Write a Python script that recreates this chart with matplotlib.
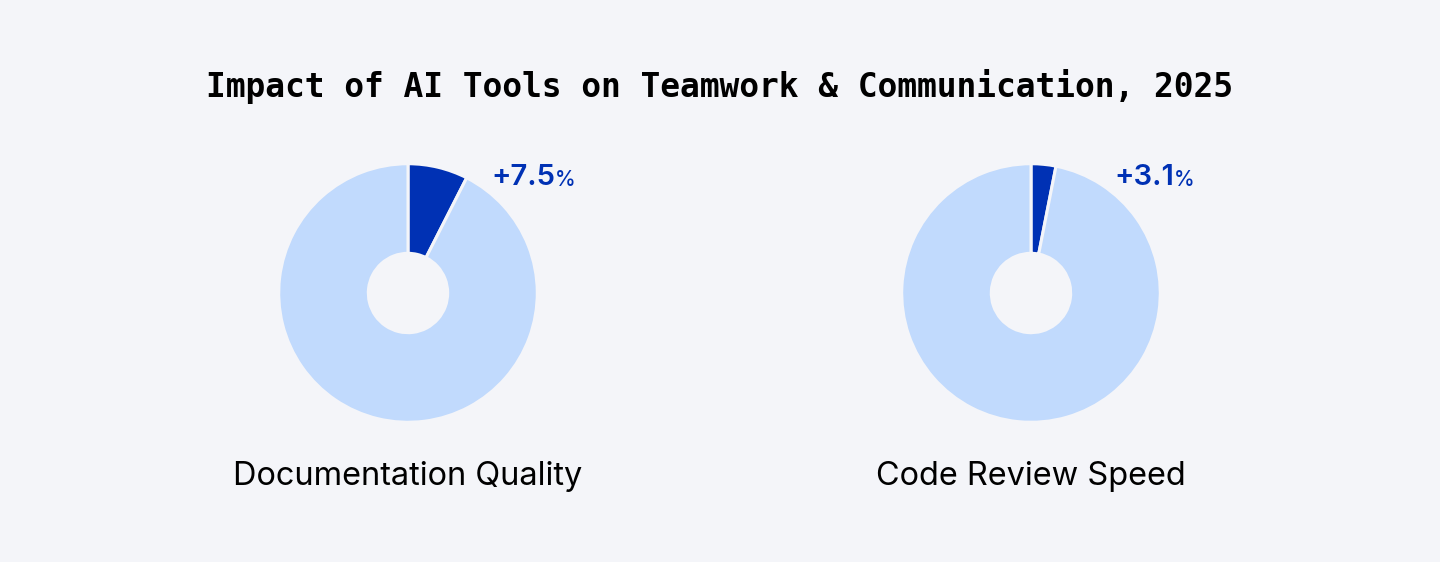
import matplotlib.pyplot as plt

# data
categories = ["Documentation Quality", "Code Review Speed"]
values = [7.5, 3.1]
title = "Impact of AI Tools on Teamwork & Communication, 2025"

bg = "#f4f5f9"
dark = "#0031b4"
light = "#c1dafd"

W, H = 1440, 562
fig = plt.figure(figsize=(W / 100, H / 100), dpi=100, facecolor=bg)

fig.text(720 / W, 1 - 97 / H, title, ha="center", va="baseline",
         fontsize=23.7, fontweight="bold", family="DejaVu Sans Mono", color="#000000")

centers = [408, 1031]
cy = 293
r_px = 128
box = 300
lim = box / 2 / r_px

for cx, cat, v in zip(centers, categories, values):
    ax = fig.add_axes([(cx - box / 2) / W, (H - cy - box / 2) / H, box / W, box / H])
    ax.pie([v, 100 - v], colors=[dark, light], startangle=90, counterclock=False,
           radius=1.01, wedgeprops=dict(width=0.70, edgecolor=bg, linewidth=2.2))
    ax.set_xlim(-lim, lim)
    ax.set_ylim(-lim, lim)
    ax.set_aspect("equal")
    ax.axis("off")

    t = ax.text(0.655, 0.84, f"+{v}", ha="left", va="baseline",
                fontsize=21, fontweight="semibold", family="Inter", color=dark)
    ax.annotate("%", xy=(1, 0), xycoords=t, xytext=(-0.5, 1.3), textcoords="offset points",
                ha="left", va="bottom", fontsize=15, fontweight="medium",
                family="Inter", color=dark)

    fig.text(cx / W, 1 - 485 / H, cat, ha="center", va="baseline",
             fontsize=23.4, family="Inter", color="#000000")

fig.savefig("out.png", dpi=100, facecolor=bg)
